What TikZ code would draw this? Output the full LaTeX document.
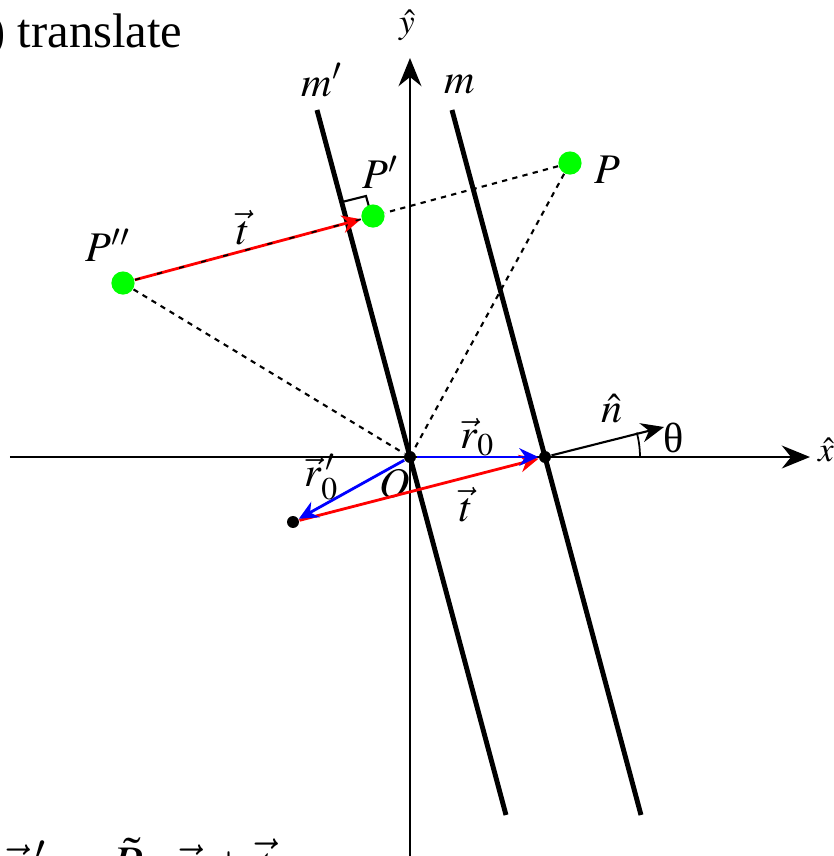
\documentclass[tikz,border=0pt]{standalone}
\usepackage{amsmath,amssymb}
\usepackage{mathptmx}
\usepackage[no-math]{fontspec}
\setmainfont{Liberation Serif}
\usepackage{tikz}
\usetikzlibrary{arrows.meta,positioning,calc}

\begin{document}
\begin{tikzpicture}[
                x=0.01cm, y=-0.01cm,
                font=\fontsize{12pt}{14pt}\selectfont,
                axis/.style={draw, line width=0.6pt, -{Stealth[length=8pt, width=6.5pt]}},
                mirror/.style={draw, line width=1.4pt},
                vecarrow/.style={draw, line width=0.8pt, -{Stealth[length=5.4pt, width=5pt]}},
                guide/.style={draw, line width=0.6pt, dash pattern=on 1.5pt off 1.5pt},
                dot/.style={circle, fill=black, minimum size=3.4pt, inner sep=0pt},
                pt/.style={circle, fill=green, minimum size=6.6pt, inner sep=0pt},
            ]
            \useasboundingbox (0,0) rectangle (834,856);
            \clip (0,0) rectangle (834,856);

            % ── Axes ──────────────────────────────────────────────
            \coordinate (xl) at (10,457);
            \coordinate (xr) at (810,457);
            \coordinate (yb) at (410,870);
            \coordinate (yt) at (410,58);
            \draw[axis] (xl) -- (xr);
            \draw[axis] (yb) -- (yt);
            \node[font=\fontsize{10pt}{12pt}\selectfont] (xlab) at (826,450) {$\hat{x}$};
            \node[font=\fontsize{10pt}{12pt}\selectfont] (ylab) at (407,25) {$\hat{y}$};

            % ── Mirror lines m and m' ─────────────────────────────
            \coordinate (mpa) at (317,110);
            \coordinate (mpb) at (506,815);
            \coordinate (ma) at (452,110);
            \coordinate (mb) at (641,815);
            \draw[mirror] (mpa) -- (mpb);
            \draw[mirror] (ma) -- (mb);
            \node (mplab) at (322,80) {$m'$};
            \node (mlab)  at (460,85) {$m$};

            % right angle at m'
            \coordinate (Fa) at (342,202);
            \coordinate (Fb) at (366,196);
            \coordinate (Fc) at (371,214);
            \draw[line width=0.6pt] (Fa) -- (Fb) -- (Fc);

            % ── Points P, P', P'' ─────────────────────────────────
            \node[pt] (P)   at (570,163) {};
            \node[pt] (Pp)  at (373,216) {};
            \node[pt] (Ppp) at (123,283) {};
            \node (Plab)   at (607,170) {$P$};
            \node (Pplab)  at (381,172) {$P'$};
            \node (Ppplab) at (108,245) {$P''$};

            % ── Origin and vectors ────────────────────────────────
            \node[dot] (O)   at (410,457) {};
            \node[dot] (r0)  at (545,457) {};
            \node[dot] (r0p) at (293,522) {};
            \node (Olab) at (395,484) {$O$};

            \draw[guide] (P) -- (Pp);
            \draw[guide] (P) -- (O);
            \draw[guide] (Ppp) -- (O);

            \draw[vecarrow, red] (Ppp) -- (Pp);
            \draw[line width=0.5pt, dash pattern=on 1.5pt off 5pt] (Ppp) -- (Pp);
            \node (tlab1) at (243,228) {$\vec{t}$};

            \draw[vecarrow, red]  (r0p) -- (r0);
            \draw[vecarrow, blue] (O) -- (r0);
            \draw[vecarrow, blue] (O) -- (r0p);
            \node (r0lab)  at (478,437) {$\vec{r}_0$};
            \node (r0plab) at (322,477) {$\vec{r}_0^{\,\prime}$};
            \node (tlab2)  at (466,505) {$\vec{t}$};

            % ── Normal and angle ──────────────────────────────────
            \coordinate (ntip) at (664,427);
            \draw[line width=0.6pt, -{Stealth[length=6.5pt, width=5.5pt]}] (r0) -- (ntip);
            \draw[line width=0.5pt] ($(r0)+(95,0)$) arc[start angle=0, end angle=-14.9, radius=95];
            \node (nlab) at (612,409) {$\hat{n}$};
            \node (thlab) at (674,438) {θ};

            % ── Clipped texts ─────────────────────────────────────
            \node[anchor=base west, inner sep=0pt, font=\fontsize{13.8pt}{16pt}\selectfont] (title) at (-11,47) {) translate};
            \node[anchor=base west, inner sep=0pt, font=\fontsize{15pt}{17pt}\selectfont] (eq) at (6,882) {$\vec{r}\,' = \tilde{R}_{m}\,\vec{r} + \vec{t}$};
        \end{tikzpicture}
\end{document}
